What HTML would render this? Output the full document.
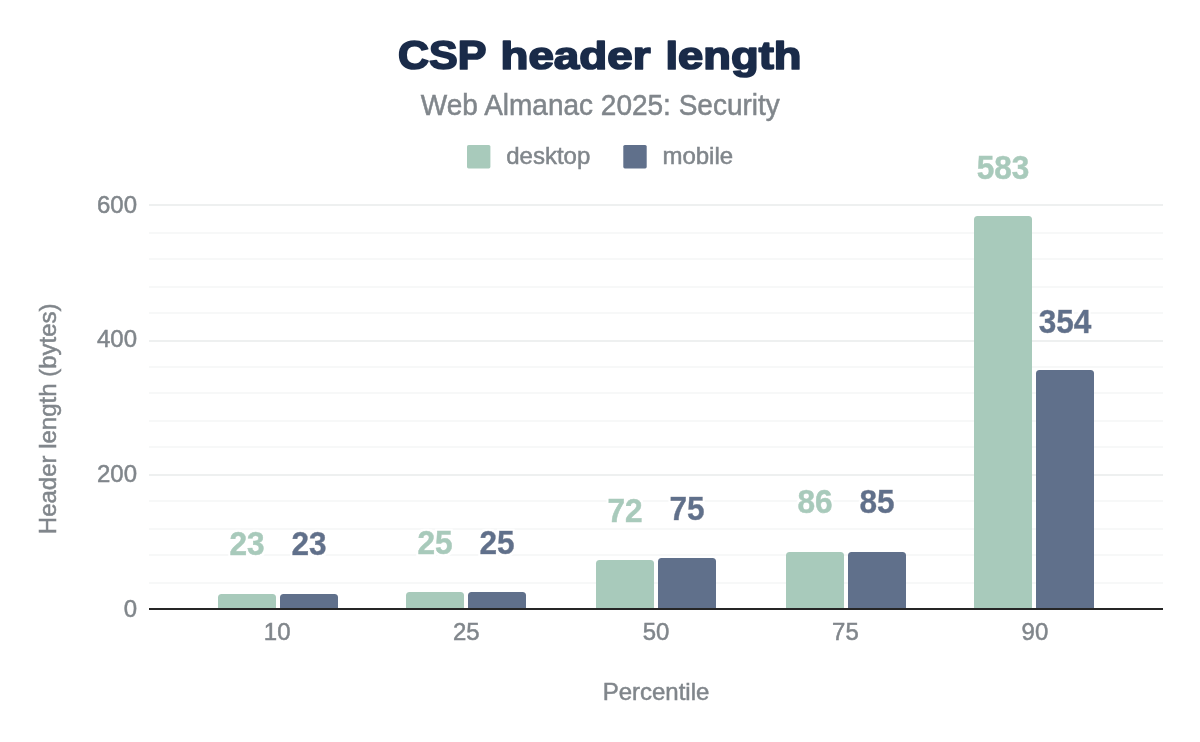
<!DOCTYPE html>
<html lang="en">
<head>
<meta charset="utf-8">
<title>CSP header length</title>
<style>
html,body{margin:0;padding:0;background:#fff;}
body{width:1200px;height:742px;overflow:hidden;}
svg{display:block;}
text{font-family:"Liberation Sans",sans-serif;}
.t{font-size:24px;fill:#80868b;stroke:#80868b;stroke-width:0.5px;}
.st{font-size:28px;fill:#80868b;stroke:#80868b;stroke-width:0.5px;}
.ti{font-size:40px;font-weight:bold;fill:#1a2b49;stroke:#1a2b49;stroke-width:1.8px;stroke-linejoin:round;}
.lbl{font-size:31.6px;font-weight:bold;stroke-width:0.5px;filter:url(#halo);}
.g{fill:#a8cabb;stroke:#a8cabb;}
.b{fill:#60708b;stroke:#60708b;}
</style>
</head>
<body>
<svg xmlns="http://www.w3.org/2000/svg" width="1200" height="742" viewBox="0 0 1200 742">
<defs><filter id="halo" x="-15%" y="-15%" width="130%" height="130%"><feMorphology in="SourceAlpha" operator="dilate" radius="1.5" result="d"/><feFlood flood-color="#ffffff"/><feComposite in2="d" operator="in" result="h"/><feMerge><feMergeNode in="h"/><feMergeNode in="SourceGraphic"/></feMerge></filter></defs>
<rect x="0" y="0" width="1200" height="742" fill="#ffffff"/>
<!-- title + subtitle -->
<text class="ti" transform="translate(0 69) scale(1 0.97)"><tspan x="398.0" textLength="88.5" lengthAdjust="spacingAndGlyphs" font-size="41.24">CSP</tspan> <tspan x="500.5" textLength="150.0" lengthAdjust="spacingAndGlyphs">header</tspan> <tspan x="665.5" textLength="136.0" lengthAdjust="spacingAndGlyphs">length</tspan></text>
<text class="st" transform="translate(600.30 115.20) scale(1 1.025)" text-anchor="middle">Web Almanac 2025: Security</text>
<!-- legend -->
<rect x="467" y="145" width="23.4" height="23.4" rx="1.6" fill="#a8cabb"/>
<text class="t" transform="translate(506.20 164.20)" text-anchor="start">desktop</text>
<rect x="623.3" y="145" width="23.4" height="23.4" rx="1.6" fill="#60708b"/>
<text class="t" transform="translate(662.40 164.20)" text-anchor="start">mobile</text>
<!-- gridlines -->
<rect x="149" y="204" width="1014" height="2" fill="#eef0f0"/>
<rect x="149" y="232" width="1014" height="2" fill="#f7f8f8"/>
<rect x="149" y="258" width="1014" height="2" fill="#f7f8f8"/>
<rect x="149" y="286" width="1014" height="2" fill="#f7f8f8"/>
<rect x="149" y="312" width="1014" height="2" fill="#f7f8f8"/>
<rect x="149" y="340" width="1014" height="2" fill="#eef0f0"/>
<rect x="149" y="366" width="1014" height="2" fill="#f7f8f8"/>
<rect x="149" y="392" width="1014" height="2" fill="#f7f8f8"/>
<rect x="149" y="420" width="1014" height="2" fill="#f7f8f8"/>
<rect x="149" y="446" width="1014" height="2" fill="#f7f8f8"/>
<rect x="149" y="474" width="1014" height="2" fill="#eef0f0"/>
<rect x="149" y="500" width="1014" height="2" fill="#f7f8f8"/>
<rect x="149" y="528" width="1014" height="2" fill="#f7f8f8"/>
<rect x="149" y="554" width="1014" height="2" fill="#f7f8f8"/>
<rect x="149" y="582" width="1014" height="2" fill="#f7f8f8"/>
<!-- y axis labels -->
<text class="t" transform="translate(137.00 212.80) scale(1 1.035)" text-anchor="end">600</text>
<text class="t" transform="translate(137.00 347.47) scale(1 1.035)" text-anchor="end">400</text>
<text class="t" transform="translate(137.00 482.13) scale(1 1.035)" text-anchor="end">200</text>
<text class="t" transform="translate(137.00 616.80) scale(1 1.035)" text-anchor="end">0</text>
<!-- bars -->
<path d="M218.00 609.00V597.50Q218.00 594.00 221.50 594.00H272.50Q276.00 594.00 276.00 597.50V609.00Z" fill="#a8cabb"/>
<path d="M280.00 609.00V597.50Q280.00 594.00 283.50 594.00H334.50Q338.00 594.00 338.00 597.50V609.00Z" fill="#60708b"/>
<path d="M406.00 609.00V595.50Q406.00 592.00 409.50 592.00H460.50Q464.00 592.00 464.00 595.50V609.00Z" fill="#a8cabb"/>
<path d="M468.00 609.00V595.50Q468.00 592.00 471.50 592.00H522.50Q526.00 592.00 526.00 595.50V609.00Z" fill="#60708b"/>
<path d="M596.00 609.00V563.50Q596.00 560.00 599.50 560.00H650.50Q654.00 560.00 654.00 563.50V609.00Z" fill="#a8cabb"/>
<path d="M658.00 609.00V561.50Q658.00 558.00 661.50 558.00H712.50Q716.00 558.00 716.00 561.50V609.00Z" fill="#60708b"/>
<path d="M786.00 609.00V555.50Q786.00 552.00 789.50 552.00H840.50Q844.00 552.00 844.00 555.50V609.00Z" fill="#a8cabb"/>
<path d="M848.00 609.00V555.50Q848.00 552.00 851.50 552.00H902.50Q906.00 552.00 906.00 555.50V609.00Z" fill="#60708b"/>
<path d="M974.00 609.00V219.50Q974.00 216.00 977.50 216.00H1028.50Q1032.00 216.00 1032.00 219.50V609.00Z" fill="#a8cabb"/>
<path d="M1036.00 609.00V373.50Q1036.00 370.00 1039.50 370.00H1090.50Q1094.00 370.00 1094.00 373.50V609.00Z" fill="#60708b"/>
<rect x="149" y="608.00" width="1014" height="2" fill="#262626"/>
<!-- data labels -->
<text class="lbl g" transform="translate(247.00 554.50) scale(1 1.050)" text-anchor="middle">23</text>
<text class="lbl b" transform="translate(309.00 554.50) scale(1 1.050)" text-anchor="middle">23</text>
<text class="lbl g" transform="translate(435.00 553.60) scale(1 1.050)" text-anchor="middle">25</text>
<text class="lbl b" transform="translate(497.00 553.60) scale(1 1.050)" text-anchor="middle">25</text>
<text class="lbl g" transform="translate(625.00 521.50) scale(1 1.050)" text-anchor="middle">72</text>
<text class="lbl b" transform="translate(687.00 519.50) scale(1 1.050)" text-anchor="middle">75</text>
<text class="lbl g" transform="translate(815.00 512.70) scale(1 1.050)" text-anchor="middle">86</text>
<text class="lbl b" transform="translate(877.00 512.70) scale(1 1.050)" text-anchor="middle">85</text>
<text class="lbl g" transform="translate(1003.00 178.70) scale(1 1.050)" text-anchor="middle">583</text>
<text class="lbl b" transform="translate(1065.00 332.90) scale(1 1.050)" text-anchor="middle">354</text>
<!-- x axis labels + axis titles -->
<text class="t" transform="translate(277.20 640.20) scale(1 1.035)" text-anchor="middle">10</text>
<text class="t" transform="translate(466.30 640.20) scale(1 1.035)" text-anchor="middle">25</text>
<text class="t" transform="translate(656.00 640.20) scale(1 1.035)" text-anchor="middle">50</text>
<text class="t" transform="translate(845.40 640.20) scale(1 1.035)" text-anchor="middle">75</text>
<text class="t" transform="translate(1034.90 640.20) scale(1 1.035)" text-anchor="middle">90</text>
<text class="t" transform="translate(656.00 700.00)" text-anchor="middle">Percentile</text>
<text class="t" transform="translate(56.00 418.80) rotate(-90)" text-anchor="middle">Header length (bytes)</text>
</svg>
</body>
</html>
